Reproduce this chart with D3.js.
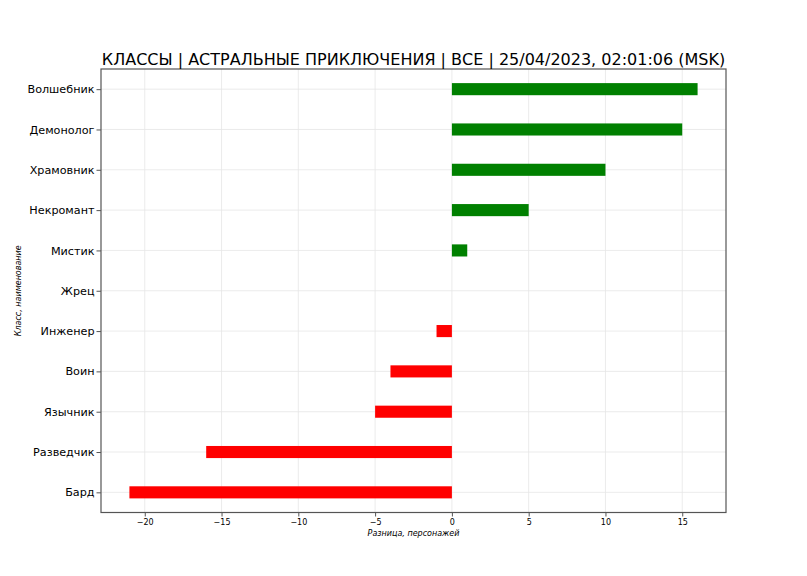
<!DOCTYPE html>
<html><head><meta charset="utf-8">
<script src="https://cdn.jsdelivr.net/npm/d3@7"></script>
<style>body{margin:0;background:#fff;}svg{display:block;font-family:"DejaVu Sans",sans-serif;}</style>
</head><body><svg id="c" width="807" height="576"></svg>
<script>
const categories = ["Волшебник","Демонолог","Храмовник","Некромант","Мистик","Жрец","Инженер","Воин","Язычник","Разведчик","Бард"];
const values = [16,15,10,5,1,0,-1,-4,-5,-16,-21];
const xTicks = [-20,-15,-10,-5,0,5,10,15];
const title = "КЛАССЫ | АСТРАЛЬНЫЕ ПРИКЛЮЧЕНИЯ | ВСЕ | 25/04/2023, 02:01:06 (MSK)";
const xLabel = "Разница, персонажей";
const yLabel = "Класс, наименование";

const svg = d3.select("#c");
const L=101, R=726, T=69, B=512.5;
const x = d3.scaleLinear().domain([-22.85,17.85]).range([L,R]);
const yIdx = d3.scaleLinear().domain([-0.5,10.5]).range([T,B]);
const y = (c)=>yIdx(categories.indexOf(c));
const barH = yIdx(0.3)-yIdx(0);

const g = svg.append("g");
// grid
g.selectAll(".vg").data(xTicks).join("line")
 .attr("x1",d=>x(d)).attr("x2",d=>x(d)).attr("y1",T).attr("y2",B)
 .attr("stroke","#e6e6e6").attr("stroke-width",0.8);
g.selectAll(".hg").data(categories).join("line")
 .attr("y1",d=>y(d)).attr("y2",d=>y(d)).attr("x1",L).attr("x2",R)
 .attr("stroke","#e6e6e6").attr("stroke-width",0.8);
// bars
g.selectAll(".bar").data(categories).join("rect")
 .attr("x",(d,i)=>x(Math.min(0,values[i])))
 .attr("width",(d,i)=>Math.abs(x(values[i])-x(0)))
 .attr("y",d=>y(d)-barH/2).attr("height",barH)
 .attr("fill",(d,i)=>values[i]>=0?"#008000":"#ff0000");
// frame
g.append("rect").attr("x",L).attr("y",T).attr("width",R-L).attr("height",B-T)
 .attr("fill","none").attr("stroke","#555").attr("stroke-width",1.2);
// x axis
const xa = svg.append("g").attr("transform",`translate(0,${B})`)
 .call(d3.axisBottom(x).tickValues(xTicks).tickSize(4).tickPadding(3).tickFormat(d=>d<0?"\u2212"+(-d):d));
xa.select(".domain").remove();
xa.selectAll("line").attr("stroke","#555");
xa.selectAll("text").attr("font-size","8px").attr("fill","#000").attr("font-family","DejaVu Sans");
// y axis
const ya = svg.append("g").attr("transform",`translate(${L},0)`)
 .call(d3.axisLeft(d3.scalePoint().domain(categories).range([yIdx(0),yIdx(10)])).tickSize(4.5).tickPadding(2));
ya.select(".domain").remove();
ya.selectAll("line").attr("stroke","#555");
ya.selectAll("text").attr("font-size","11.2px").attr("fill","#000").attr("font-family","DejaVu Sans");
// title
svg.append("text").attr("x",(L+R)/2).attr("y",65).attr("text-anchor","middle")
 .attr("font-size","16px").attr("fill","#000").text(title);
svg.append("text").attr("x",(L+R)/2).attr("y",536).attr("text-anchor","middle")
 .attr("font-size","8px").attr("font-style","italic").attr("fill","#000").text(xLabel);
svg.append("text").attr("transform",`translate(21,${(T+B)/2}) rotate(-90)`).attr("text-anchor","middle")
 .attr("font-size","8px").attr("font-style","italic").attr("fill","#000").text(yLabel);
</script></body></html>
